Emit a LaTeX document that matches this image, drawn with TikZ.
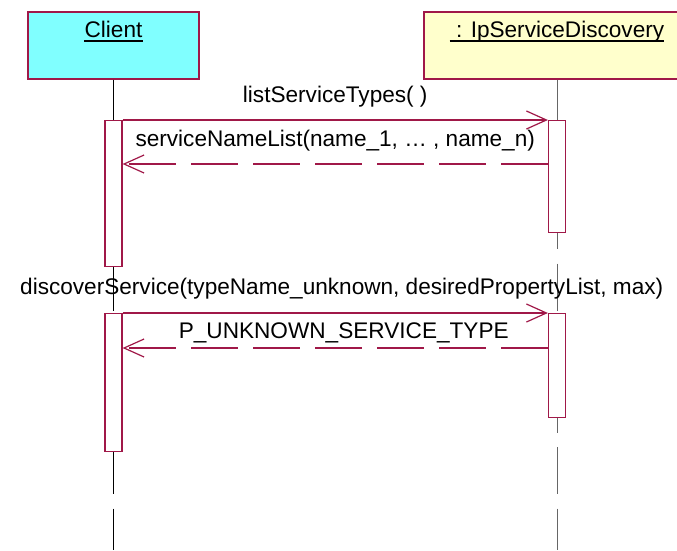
\documentclass[tikz,border=0pt]{standalone}
\usepackage{fontspec}
\setmainfont{Liberation Sans}
\usetikzlibrary{arrows.meta}
\definecolor{umlred}{RGB}{160,24,72}
\definecolor{clientcyan}{RGB}{128,255,255}
\definecolor{objyellow}{RGB}{255,255,204}

\begin{document}
\begin{tikzpicture}[x=1pt,y=-1pt,font=\fontsize{22.6}{27}\selectfont,
  objbox/.style={draw=umlred,line width=1.2pt,minimum height=67pt,inner sep=0pt},
  actbox/.style={draw=umlred,fill=white,line width=1.2pt,minimum width=17pt,inner sep=0pt,anchor=north},
  life/.style={line width=1pt,dash pattern=on 47pt off 14.3pt},
  call/.style={draw=umlred,line width=1.2pt,-{Straight Barb[length=20pt,width=18pt]}},
  reply/.style={call,dash pattern=on 47pt off 15pt},
  msg/.style={anchor=base,inner sep=0pt}]

\clip (0,0) rectangle (677,550);

\node[objbox,fill=clientcyan,minimum width=171pt] (client) at (113.5,45.5) {};
\node[objbox,fill=objyellow,minimum width=266pt] (disc) at (557,45.5) {};
\node[msg] (clientname) at (113.5,37) {Client};
\node[msg] (discname) at (557,37) {\ : IpServiceDiscovery};
\draw[line width=1.6pt] ([yshift=-4pt]clientname.base west) -- ([yshift=-4pt]clientname.base east);
\draw[line width=1.6pt] ([yshift=-4pt]discname.base west) -- ([yshift=-4pt]discname.base east);

% lifelines
\coordinate (end) at (0,550);
\draw[life] (client.south) -- (client.south |- end);
\draw[life,black!60] (disc.south) -- (disc.south |- end);

% activations
\node[actbox,minimum height=146pt] (ca1) at (113.5,120) {};
\node[actbox,minimum height=112pt] (da1) at (557,120) {};
\node[actbox,minimum height=138pt] (ca2) at (113.5,313) {};
\node[actbox,minimum height=104pt] (da2) at (557,313) {};

% messages
\coordinate (r1) at (0,164);
\coordinate (r2) at (0,348);
\draw[call] (ca1.north east) to node[msg,yshift=18pt] {listServiceTypes( )} (da1.north west);
\draw[reply] (da1.west |- r1) to node[msg,yshift=18pt] {serviceNameList(name\_1, … , name\_n)} (ca1.east |- r1);
\draw[call] (ca2.north east) to node[msg,yshift=19pt,xshift=6.5pt] {discoverService(typeName\_unknown, desiredPropertyList, max)} (da2.north west);
\draw[reply] (da2.west |- r2) to node[msg,yshift=10pt,xshift=8.5pt] {P\_UNKNOWN\_SERVICE\_TYPE} (ca2.east |- r2);

\end{tikzpicture}
\end{document}
